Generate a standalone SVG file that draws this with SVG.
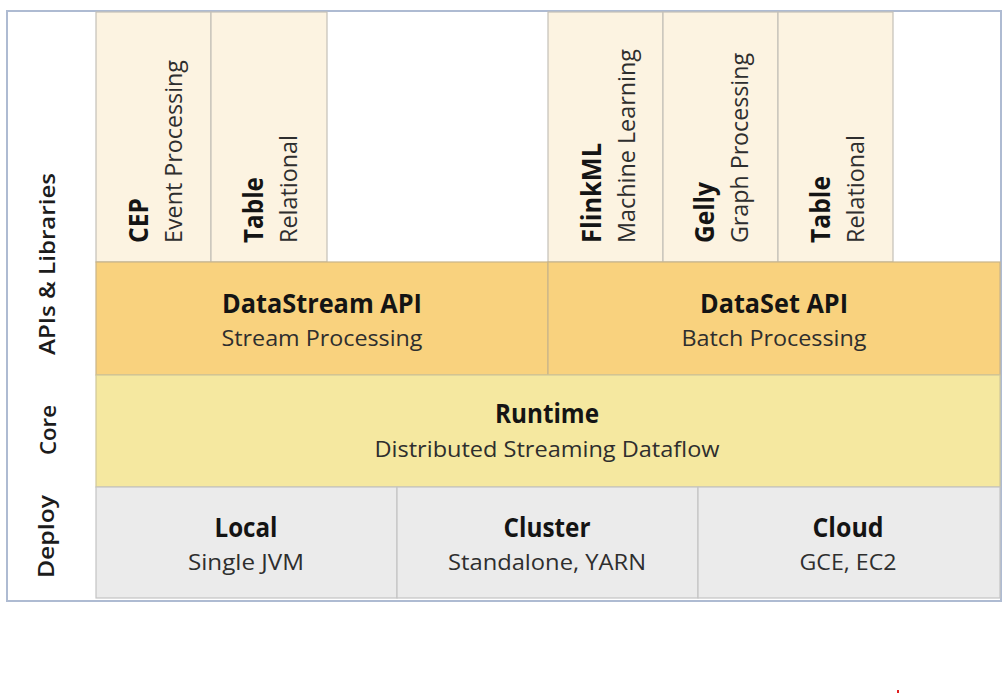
<svg xmlns="http://www.w3.org/2000/svg" width="1004" height="695" viewBox="0 0 1004 695">
<style>
.lib{fill:#fcf3e1;stroke:#c4c0b8;stroke-width:1.2}
.api{fill:#f9d27e;stroke:#c9b58a;stroke-width:1.2}
.core{fill:#f5e8a0;stroke:#cfc79a;stroke-width:1.2}
.dep{fill:#ebebeb;stroke:#c4c4c4;stroke-width:1.2}
.t{font-family:"Open Sans","Noto Sans",sans-serif;font-weight:700;fill:#141414;font-size:26px}
.s{font-family:"Open Sans","Noto Sans",sans-serif;font-weight:400;fill:#2e2e2e;font-size:22px}
.v{font-size:23px}
.lbl{font-family:"Open Sans","Noto Sans",sans-serif;font-weight:600;fill:#1c1c1c;font-size:21px}
.c{text-anchor:middle}
</style>
<rect x="0" y="0" width="1004" height="695" fill="#ffffff"/>
<rect id="frame" x="7" y="11" width="994" height="590" fill="#ffffff" stroke="#aebbd2" stroke-width="2"/>

<g id="label-apis"><text class="lbl" transform="translate(55,355) rotate(-90)" textLength="182" lengthAdjust="spacingAndGlyphs">APIs &amp; Libraries</text></g>
<g id="label-core"><text class="lbl" transform="translate(56,455) rotate(-90)" textLength="50" lengthAdjust="spacingAndGlyphs">Core</text></g>
<g id="label-deploy"><text class="lbl" transform="translate(54,578) rotate(-90)" textLength="83" lengthAdjust="spacingAndGlyphs">Deploy</text></g>

<g id="cep"><rect class="lib" x="96" y="12" width="115" height="250"/>
<text class="t" transform="translate(148,243) rotate(-90)" textLength="45" lengthAdjust="spacingAndGlyphs">CEP</text>
<text class="s v" transform="translate(182,243) rotate(-90)" textLength="183" lengthAdjust="spacingAndGlyphs">Event Processing</text></g>
<g id="table1"><rect class="lib" x="211" y="12" width="116" height="250"/>
<text class="t" transform="translate(263,243) rotate(-90)" textLength="66" lengthAdjust="spacingAndGlyphs">Table</text>
<text class="s v" transform="translate(297,243) rotate(-90)" textLength="108" lengthAdjust="spacingAndGlyphs">Relational</text></g>
<g id="flinkml"><rect class="lib" x="548" y="12" width="115" height="250"/>
<text class="t" transform="translate(601,243) rotate(-90)" textLength="100" lengthAdjust="spacingAndGlyphs">FlinkML</text>
<text class="s v" transform="translate(635,243) rotate(-90)" textLength="194" lengthAdjust="spacingAndGlyphs">Machine Learning</text></g>
<g id="gelly"><rect class="lib" x="663" y="12" width="115" height="250"/>
<text class="t" transform="translate(714,243) rotate(-90)" textLength="61" lengthAdjust="spacingAndGlyphs">Gelly</text>
<text class="s v" transform="translate(748,243) rotate(-90)" textLength="190" lengthAdjust="spacingAndGlyphs">Graph Processing</text></g>
<g id="table2"><rect class="lib" x="778" y="12" width="115" height="250"/>
<text class="t" transform="translate(830,243) rotate(-90)" textLength="67" lengthAdjust="spacingAndGlyphs">Table</text>
<text class="s v" transform="translate(864,243) rotate(-90)" textLength="108" lengthAdjust="spacingAndGlyphs">Relational</text></g>

<g id="datastream"><rect class="api" x="96" y="262" width="452" height="113"/>
<text class="t c" x="322" y="313" textLength="200" lengthAdjust="spacingAndGlyphs">DataStream API</text>
<text class="s c" x="322" y="346" textLength="201" lengthAdjust="spacingAndGlyphs">Stream Processing</text></g>
<g id="dataset"><rect class="api" x="548" y="262" width="452" height="113"/>
<text class="t c" x="774" y="313" textLength="148" lengthAdjust="spacingAndGlyphs">DataSet API</text>
<text class="s c" x="774" y="346" textLength="185" lengthAdjust="spacingAndGlyphs">Batch Processing</text></g>

<g id="runtime"><rect class="core" x="96" y="375" width="904" height="112"/>
<text class="t c" x="547" y="423" textLength="104" lengthAdjust="spacingAndGlyphs">Runtime</text>
<text class="s c" x="547" y="457" textLength="345" lengthAdjust="spacingAndGlyphs">Distributed Streaming Dataflow</text></g>

<g id="local"><rect class="dep" x="96" y="487" width="301" height="111"/>
<text class="t c" x="246" y="537" textLength="63" lengthAdjust="spacingAndGlyphs">Local</text>
<text class="s c" x="246" y="570" textLength="116" lengthAdjust="spacingAndGlyphs">Single JVM</text></g>
<g id="cluster"><rect class="dep" x="397" y="487" width="301" height="111"/>
<text class="t c" x="547" y="537" textLength="87" lengthAdjust="spacingAndGlyphs">Cluster</text>
<text class="s c" x="547" y="570" textLength="198" lengthAdjust="spacingAndGlyphs">Standalone, YARN</text></g>
<g id="cloud"><rect class="dep" x="698" y="487" width="302" height="111"/>
<text class="t c" x="848" y="537" textLength="71" lengthAdjust="spacingAndGlyphs">Cloud</text>
<text class="s c" x="848" y="570" textLength="97" lengthAdjust="spacingAndGlyphs">GCE, EC2</text></g>

<g id="connectors"></g>
<rect x="897" y="690" width="2" height="3" fill="#e02020"/>
</svg>
